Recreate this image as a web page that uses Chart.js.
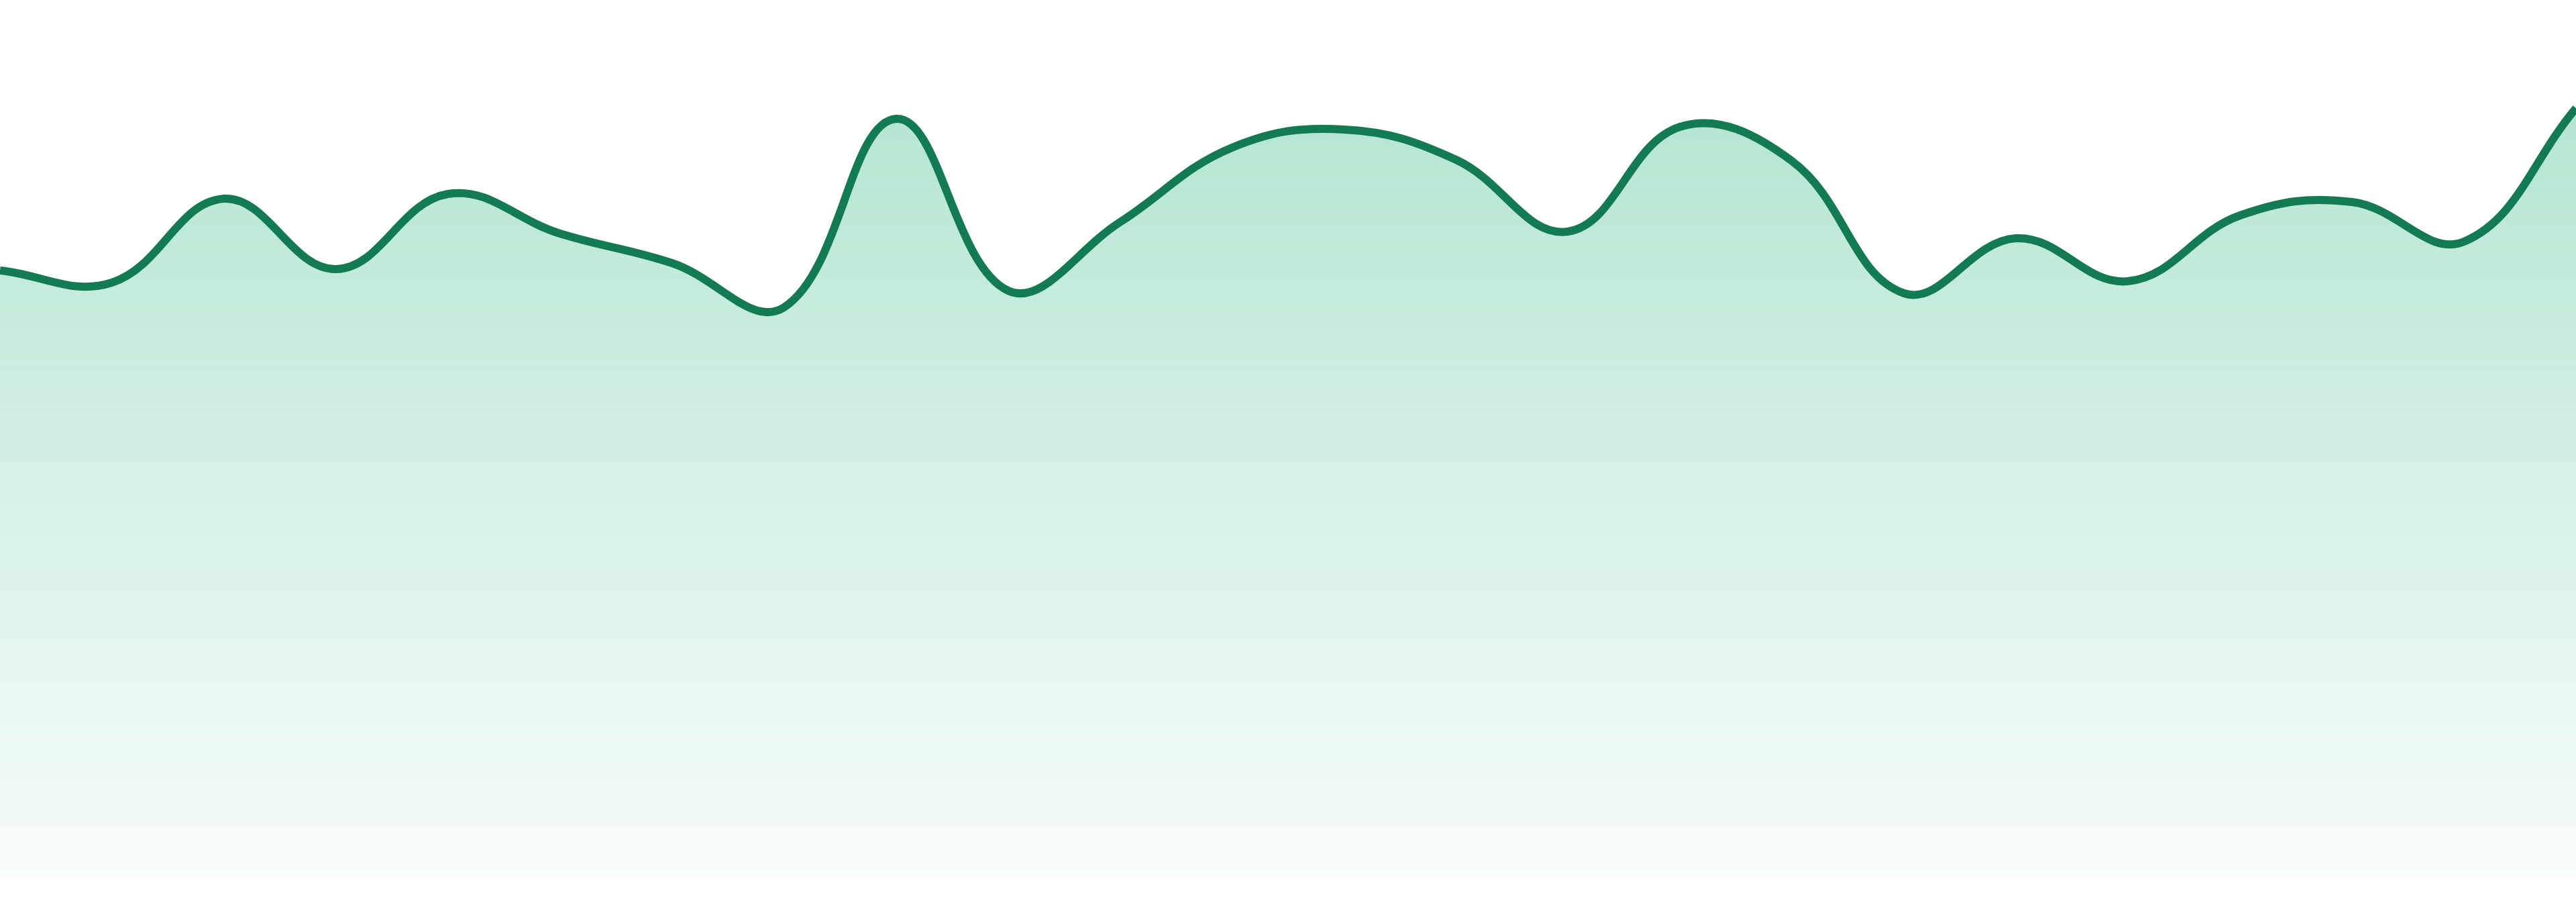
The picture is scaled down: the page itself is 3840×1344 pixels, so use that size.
<!DOCTYPE html>
<html>
<head>
<meta charset="utf-8">
<title>Area trend</title>
<script src="https://cdn.jsdelivr.net/npm/chart.js@4.4.1/dist/chart.umd.min.js"></script>
<style>
  html, body { margin: 0; padding: 0; background: #ffffff; }
  #wrap { width: 3840px; height: 1344px; position: relative; }
</style>
</head>
<body>
<div id="wrap"><canvas id="trendChart"></canvas></div>
<script>
// Data
const labels = ['1', '2', '3', '4', '5', '6', '7', '8', '9', '10', '11', '12',
                '13', '14', '15', '16', '17', '18', '19', '20', '21', '22', '23', '24'];
const values = [90.2, 88.4, 100.9, 90.4, 101.6, 95.7, 91.3, 84.7, 112.8, 87.2, 97.4, 108.5,
                111.2, 106.7, 96.0, 111.6, 106.5, 86.8, 95.0, 88.6, 98.4, 100.4, 94.5, 114.4];
const yMin = 0;
const yMax = 130.5;

const lineColor = '#127b52';

/**
 * Vertical gradient under the line, fading towards the bottom
 */
function areaGradient(context) {
  const chart = context.chart;
  const area = chart.chartArea;
  if (!area) return 'rgba(22, 176, 114, 0.2)';
  const g = chart.ctx.createLinearGradient(0, area.top, 0, area.bottom);
  g.addColorStop(0, 'rgba(22, 176, 114, 0.36)');
  g.addColorStop(1, 'rgba(22, 176, 114, 0.03)');
  return g;
}

document.addEventListener('DOMContentLoaded', () => {
  const ctx = document.getElementById('trendChart').getContext('2d');
  window.trendChart = new Chart(ctx, {
    type: 'line',
    data: {
      labels: labels,
      datasets: [{
        data: values,
        borderColor: lineColor,
        borderWidth: 12,
        backgroundColor: areaGradient,
        fill: 'origin',
        tension: 0.4,
        pointRadius: 0,
        pointHoverRadius: 0
      }]
    },
    options: {
      responsive: true,
      maintainAspectRatio: false,
      animation: false,
      devicePixelRatio: 1,
      layout: { padding: { top: 0, right: 0, bottom: 39, left: 0 } },
      plugins: {
        legend: { display: false },
        tooltip: { enabled: false }
      },
      scales: {
        x: { display: false, offset: false },
        y: { display: false, min: yMin, max: yMax }
      }
    }
  });
});
</script>
</body>
</html>
